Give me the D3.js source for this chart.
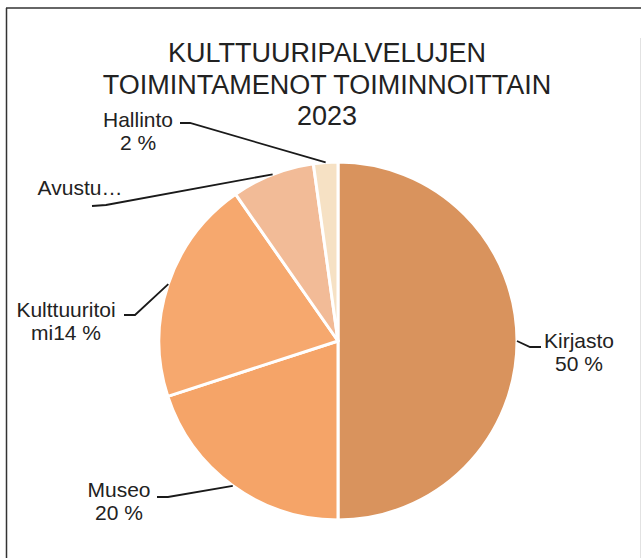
<!DOCTYPE html>
<html>
<head>
<meta charset="utf-8">
<script src="https://cdn.jsdelivr.net/npm/d3@7"></script>
<style>
  body { margin: 0; background: #fff; }
  text { font-family: "Liberation Sans", Arial, sans-serif; fill: #222; }
</style>
</head>
<body>
<div id="chart-area"></div>
<script>
let width = 642,
    height = 558;

// data (shares of 100)
let categories = ["Kirjasto", "Museo", "Kulttuuritoimi", "Avustukset", "Hallinto"];
let values = [50, 20, 20.3, 7.5, 2.2];
// label texts as printed in the chart
let labelTexts = [["Kirjasto", "50 %"], ["Museo", "20 %"], ["Kulttuuritoi", "mi14 %"], ["Avustu…"], ["Hallinto", "2 %"]];
let titleLines = ["KULTTUURIPALVELUJEN", "TOIMINTAMENOT TOIMINNOITTAIN", "2023"];

let colors = ["#d9935d", "#f5a468", "#f6a86e", "#f2bb97", "#f6e1c4"];

// label placement: text centre x, first baseline, leader start and elbow
let labelLayout = [
  { x: 579, y: 348, start: [541, 347], elbow: [530, 347] },
  { x: 119, y: 497, start: [157, 497], elbow: [168, 497] },
  { x: 66,  y: 317, start: [124, 315], elbow: [135, 315] },
  { x: 80,  y: 195, start: [92, 206],  elbow: [106, 205] },
  { x: 138, y: 127, start: [180, 123], elbow: [190, 123] }
];

let cx = 338, cy = 341, r = 179;

let svg = d3.select("#chart-area").append("svg")
  .attr("width", width)
  .attr("height", height);

// frame
svg.append("line").attr("x1", 6).attr("y1", 8).attr("x2", 641).attr("y2", 8)
  .attr("stroke", "#333").attr("stroke-width", 1.5);
svg.append("line").attr("x1", 6.5).attr("y1", 8).attr("x2", 6.5).attr("y2", height)
  .attr("stroke", "#333").attr("stroke-width", 1.5);
svg.append("line").attr("x1", 640.5).attr("y1", 38).attr("x2", 640.5).attr("y2", height)
  .attr("stroke", "#e2e2e2").attr("stroke-width", 1);

// title
svg.append("text")
  .attr("x", 327)
  .attr("text-anchor", "middle")
  .style("font-size", "27px")
  .selectAll("tspan")
  .data(titleLines)
  .enter().append("tspan")
  .attr("x", 327)
  .attr("y", (d, i) => 62 + i * 31.5)
  .text(d => d);

let pie = d3.pie().sort(null).value(d => d);
let arcs = pie(values);

let arc = d3.arc().innerRadius(0).outerRadius(r);
let outer = d3.arc().innerRadius(r).outerRadius(r);

let g = svg.append("g").attr("transform", "translate(" + cx + "," + cy + ")");

g.selectAll("path")
  .data(arcs)
  .enter().append("path")
  .attr("d", arc)
  .attr("fill", (d, i) => colors[i])
  .attr("stroke", "#fff")
  .attr("stroke-width", 3)
  .attr("stroke-linejoin", "round");

// leader lines
svg.selectAll(".leader")
  .data(arcs)
  .enter().append("polyline")
  .attr("class", "leader")
  .attr("fill", "none")
  .attr("stroke", "#1a1a1a")
  .attr("stroke-width", 1.8)
  .attr("points", (d, i) => {
    let p = outer.centroid(d);
    let L = labelLayout[i];
    return [[cx + p[0], cy + p[1]], L.elbow, L.start].map(q => q.join(",")).join(" ");
  });

// labels
let labels = svg.selectAll(".label")
  .data(arcs)
  .enter().append("text")
  .attr("class", "label")
  .attr("text-anchor", "middle")
  .style("font-size", "21px");

labels.selectAll("tspan")
  .data((d, i) => labelTexts[i].map(t => ({ t: t, i: i })))
  .enter().append("tspan")
  .attr("x", d => labelLayout[d.i].x)
  .attr("y", (d, j) => labelLayout[d.i].y + j * 23)
  .text(d => d.t);
</script>
</body>
</html>
